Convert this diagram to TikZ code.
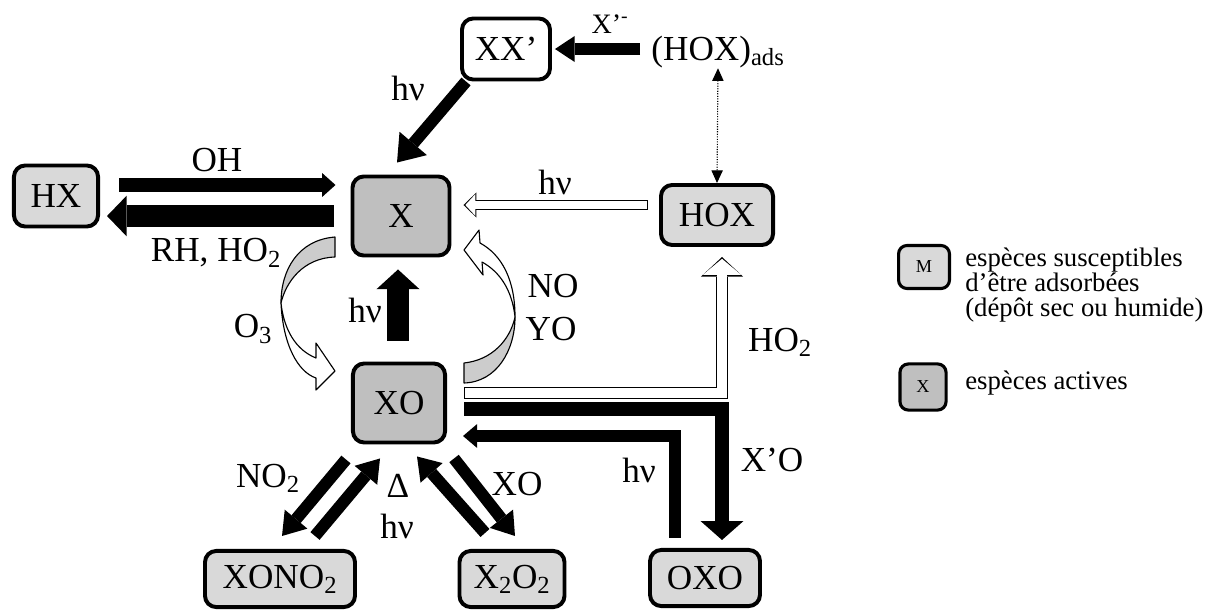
\documentclass[tikz,border=0pt]{standalone}
\usepackage{fontspec}
\setmainfont{Liberation Serif}
\usetikzlibrary{arrows.meta,calc}

\tikzset{
  espece/.style={draw, line width=2.8pt, rounded corners=8pt, inner sep=0pt,
    font=\fontsize{25}{28}\selectfont},
  active/.style={espece, fill=gray!50},
  adsorbee/.style={espece, fill=gray!30},
  etiquette/.style={inner sep=0pt, font=\fontsize{25}{28}\selectfont},
  legende/.style={inner sep=0pt, font=\fontsize{19}{17.8}\selectfont, align=left},
  % epaisseur / longueur de pointe / largeur de pointe
  pleine/.style args={#1/#2/#3}{draw=black, line width=#1, line join=miter,
    -{Triangle[length=#2, width=#3, line width=0pt]}},
  interieur/.style={draw=white, shorten <=0.9pt, shorten >=1.3pt},
  ruban/.style={draw=black, line width=0.8pt, line join=round},
}

\begin{document}
\begin{tikzpicture}[x=0.025cm, y=-0.025cm]
    \useasboundingbox (0,0) rectangle (1214,612);

    % Especes
    \node[espece, fill=white, minimum width=62.6pt, minimum height=43.4pt] (XXp) at (506,49) {XX’};
    \node[etiquette] (HOXads) at (718,52) {(HOX)\textsubscript{ads}};
    \node[active, minimum width=69pt, minimum height=56.2pt] (X) at (401,216) {X};
    \node[adsorbee, minimum width=79.7pt, minimum height=42.7pt] (HOX) at (717,215) {HOX};
    \node[adsorbee, minimum width=59.8pt, minimum height=43.4pt] (HX) at (56,196) {HX};
    \node[active, minimum width=65.5pt, minimum height=56.2pt] (XO) at (399,403) {XO};
    \node[adsorbee, minimum width=106.7pt, minimum height=39.9pt] (XONO2) at (280,579) {XONO\textsubscript{2}};
    \node[adsorbee, minimum width=74.7pt, minimum height=39.9pt] (X2O2) at (512,579) {X\textsubscript{2}O\textsubscript{2}};
    \node[adsorbee, minimum width=78.2pt, minimum height=39.9pt] (OXO) at (705,578) {OXO};

    % Haut : HOX adsorbe, XX'
    \draw[pleine=8.5pt/14pt/18.5pt] ($(HOXads.west)+(-11,-3)$) -- ($(XXp.east)+(3,0)$);
    \draw[pleine=8.5pt/17.8pt/25.6pt] ($(XXp.south west)+(6,0)$) -- ($(X.north)+(-4,-12)$);
    \draw[densely dotted, line width=0.8pt, {Triangle[length=9pt,width=8pt]}-{Triangle[length=9pt,width=8pt]}]
        ($(HOXads.south)+(0,0)$) -- (HOX.north);
    \node[etiquette, font=\fontsize{20}{24}\selectfont] (Xmoins) at (610,24) {X’\textsuperscript{-}};
    \node[etiquette] (hv1) at (408,88) {hν};

    % HX <-> X
    \draw[pleine=10pt/9.5pt/17pt] ($(HX.east)+(19,-11)$) -- ($(X.west)+(-15,-31)$);
    \draw[pleine=15.6pt/14pt/29pt] ($(X.west)+(-17,0)$) -- ($(HX.east)+(7,20)$);
    \node[etiquette] (oh) at (217,160) {OH};
    \node[etiquette] (rh) at (216,253) {RH, HO\textsubscript{2}};

    % HOX -> X (fleche creuse)
    \draw[pleine=7.1pt/9.2pt/17.8pt] ($(HOX.west)+(-11,-10)$) -- ($(X.east)+(12,-11)$);
    \draw[pleine=5.5pt/7.2pt/15.5pt, interieur] ($(HOX.west)+(-11,-10)$) -- ($(X.east)+(12,-11)$);
    \node[etiquette] (hv2) at (555,182) {hν};

    % XO -> X
    \draw[pleine=15.6pt/14pt/30.6pt] ($(XO.north)+(-1,-21)$) -- ($(X.south)+(-3,12)$);
    \node[etiquette] (hv3) at (365,310) {hν};

    % O3 : ruban de X vers XO
    \begin{scope}[shift={(XO.west)}]
        \filldraw[ruban, fill=gray!40] (-16,-166) .. controls (-53,-163) and (-70,-133) .. (-70,-100)
            .. controls (-65,-121) and (-48,-145) .. (-16,-146) -- cycle;
        \filldraw[ruban, fill=white] (-70,-100) .. controls (-68,-58) and (-53,-31) .. (-35,-25)
            -- (-35,-13) -- (-16,-32) -- (-35,-60) -- (-35,-45)
            .. controls (-55,-53) and (-67,-73) .. (-70,-100) -- cycle;
    \end{scope}
    \node[etiquette] (o3) at (253,329) {O\textsubscript{3}};

    % NO, YO : ruban de XO vers X
    \begin{scope}[shift={(XO.east)}]
        \filldraw[ruban, fill=gray!40] (17,-20) .. controls (50,-21) and (68,-53) .. (68,-86)
            .. controls (63,-63) and (45,-43) .. (17,-40) -- cycle;
        \filldraw[ruban, fill=white] (68,-86) .. controls (68,-123) and (55,-148) .. (33,-160)
            -- (32,-173) -- (17,-153) -- (36,-128) -- (35,-141)
            .. controls (53,-131) and (65,-113) .. (68,-86) -- cycle;
    \end{scope}
    \node[etiquette] (no) at (553,286) {NO};
    \node[etiquette] (yo) at (551,329) {YO};

    % XO -> HOX (fleche creuse)
    \draw[pleine=8.5pt/14pt/30pt] ($(XO.east)+(17,-10)$) -| ($(HOX.south)+(5,10)$);
    \draw[pleine=6.9pt/11.5pt/27.5pt, interieur] ($(XO.east)+(17,-10)$) -| ($(HOX.south)+(5,10)$);
    \node[etiquette] (ho2) at (780,342) {HO\textsubscript{2}};

    % XO <-> OXO
    \draw[pleine=10pt/13.5pt/30.6pt] ($(XO.east)+(17,6)$) -| ($(OXO.north)+(17,-8)$);
    \draw[pleine=9pt/10pt/17pt] ($(OXO.north)+(-30,-10)$) |- ($(XO.east)+(16,33)$);
    \node[etiquette] (xpo) at (772,460) {X’O};
    \node[etiquette] (hv4) at (639,470) {hν};

    % XO <-> XONO2 et X2O2
    \draw[pleine=8.5pt/15.6pt/21pt] ($(XO.south west)+(-5,15)$) -- ($(XONO2.north)+(2,-13)$);
    \draw[pleine=8.5pt/15.6pt/21pt] ($(XONO2.north)+(35,-13)$) -- ($(XO.south)+(-19,14)$);
    \draw[pleine=8.5pt/15.6pt/21pt] ($(X2O2.north)+(-27,-16)$) -- ($(XO.south)+(18,12)$);
    \draw[pleine=8.5pt/15.6pt/21pt] ($(XO.south east)+(7,14)$) -- ($(X2O2.north)+(3,-13)$);
    \node[etiquette] (no2) at (268,478) {NO\textsubscript{2}};
    \node[etiquette] (delta) at (398,486) {Δ};
    \node[etiquette] (hv5) at (397,526) {hν};
    \node[etiquette] (xo) at (517,484) {XO};

    % Legende
    \node[adsorbee, line width=2.2pt, rounded corners=6pt, minimum width=36.2pt, minimum height=30.6pt,
        font=\fontsize{13}{15}\selectfont] (legM) at (924,267) {M};
    \node[legende, anchor=west] (legMtexte) at (965,285) {espèces susceptibles\\d’être adsorbées\\(dépôt sec ou humide)};
    \node[active, line width=2.2pt, rounded corners=6pt, minimum width=32.8pt, minimum height=32.8pt,
        font=\fontsize{13}{15}\selectfont] (legX) at (923,387) {X};
    \node[legende, anchor=west] (legXtexte) at (965,383) {espèces actives};
\end{tikzpicture}
\end{document}
